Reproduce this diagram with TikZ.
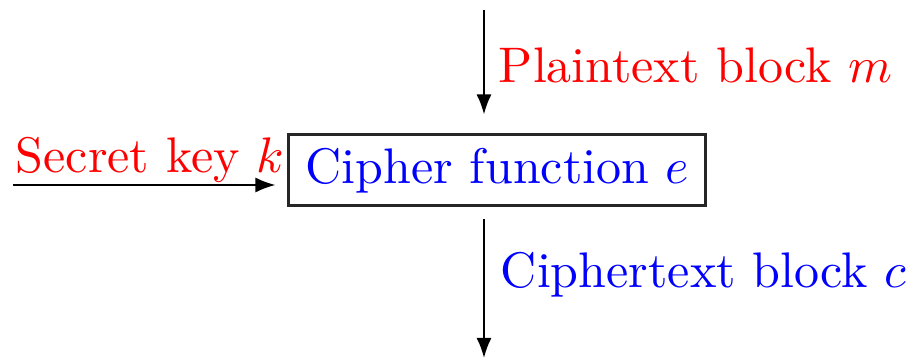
\documentclass[tikz,border=0pt]{standalone}
\usetikzlibrary{arrows.meta}
\tikzset{
  flow/.style={draw=black, line width=0.4pt, -{Latex[length=4pt,width=3pt]}},
  cipherbox/.style={draw=black!85, line width=0.6pt, minimum width=83.4pt,
    minimum height=14.2pt, inner sep=0pt, text=blue},
  lbl/.style={inner sep=0pt, anchor=base west}
}
\begin{document}
\begin{tikzpicture}[x=0.2pt, y=-0.2pt]
  \useasboundingbox (0,0) rectangle (912,360);
  % the cipher block
  \node[cipherbox] (box) at (497.5,170.5) {Cipher function $e$};
  % arrow ends
  \coordinate (mtop) at (484,10);
  \coordinate (cbot) at (484,358);
  \coordinate (kleft) at (13,185);
  % labels
  \node[lbl, text=red] (plain) at (498,82) {Plaintext block $m$};
  \node[lbl, text=blue] (ctext) at (500,288) {Ciphertext block $c$};
  \node[lbl, text=red] (key) at (15,173) {Secret key $k$};
  % connectors
  \draw[flow, shorten >=3.8pt] (mtop) -- (mtop |- box.north);
  \draw[flow, shorten <=2.4pt] (mtop |- box.south) -- (cbot);
  \draw[flow, shorten >=2.4pt] (kleft) -- (kleft -| box.west);
\end{tikzpicture}
\end{document}
